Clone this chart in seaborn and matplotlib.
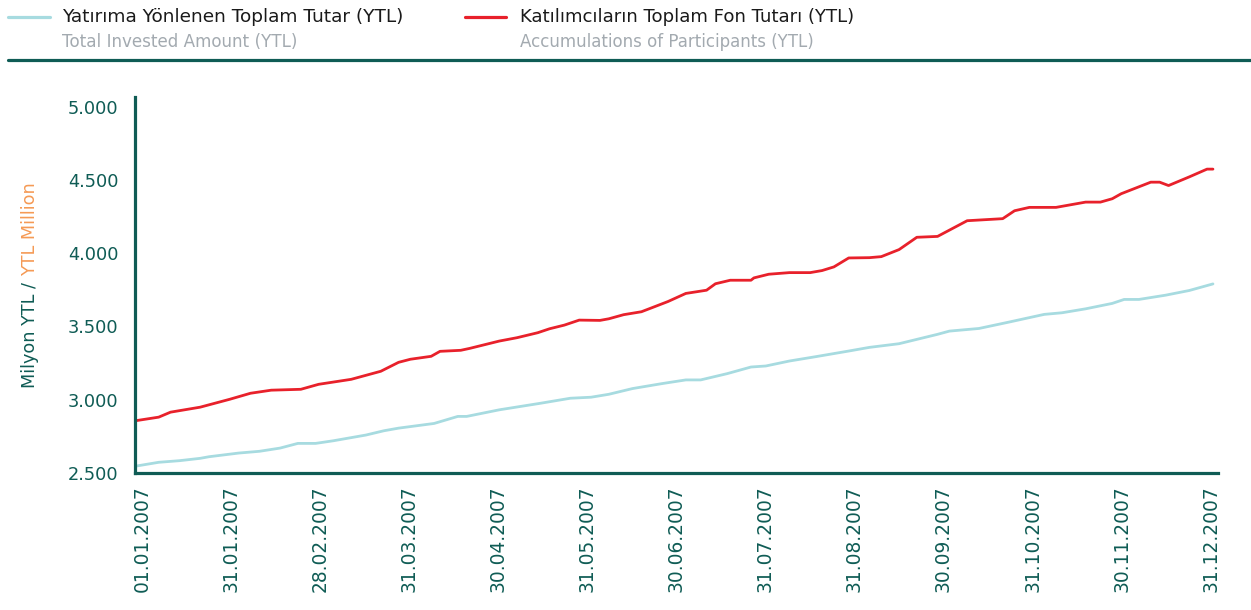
import numpy as np
import pandas as pd
import matplotlib
matplotlib.use("Agg")
import matplotlib.pyplot as plt
from matplotlib.lines import Line2D
import seaborn as sns

# ---- data ----
# day offsets from 01.01.2007, values in million YTL
red_days = [0, 8, 12, 22, 32, 39, 46, 56, 62, 73, 83, 89, 93, 100, 103, 110, 113, 123,
            129, 136, 140, 145, 150, 157, 160, 165, 171, 175, 180, 186, 193, 196, 201,
            208, 209, 214, 221, 228, 232, 236, 241, 248, 252, 258, 264, 271, 281, 293,
            297, 302, 311, 321, 326, 330, 333, 343, 346, 349, 356, 362, 364]
red_vals = [2856, 2881, 2915, 2949, 3003, 3044, 3065, 3071, 3105, 3139, 3194, 3255, 3276,
            3296, 3330, 3337, 3350, 3400, 3423, 3457, 3484, 3509, 3543, 3541, 3552, 3580,
            3600, 3631, 3670, 3725, 3747, 3791, 3815, 3815, 3831, 3856, 3867, 3867, 3881,
            3906, 3967, 3969, 3976, 4024, 4108, 4114, 4221, 4235, 4289, 4312, 4312, 4348,
            4348, 4371, 4405, 4484, 4484, 4461, 4520, 4573, 4573]

blue_days = [0, 8, 15, 22, 25, 35, 42, 49, 55, 61, 67, 78, 84, 89, 101, 109, 112, 123,
             137, 147, 154, 160, 168, 178, 186, 191, 200, 208, 213, 221, 230, 241, 248,
             258, 271, 275, 285, 295, 307, 313, 321, 330, 334, 339, 348, 356, 364]
blue_vals = [2546, 2573, 2584, 2600, 2611, 2636, 2648, 2670, 2702, 2702, 2720, 2759, 2788,
             2806, 2838, 2886, 2886, 2931, 2976, 3010, 3017, 3037, 3076, 3110, 3135, 3135,
             3178, 3223, 3230, 3264, 3294, 3332, 3357, 3382, 3446, 3468, 3486, 3529, 3582,
             3593, 3620, 3657, 3684, 3684, 3713, 3745, 3790]

tick_labels = ["01.01.2007", "31.01.2007", "28.02.2007", "31.03.2007", "30.04.2007",
               "31.05.2007", "30.06.2007", "31.07.2007", "31.08.2007", "30.09.2007",
               "31.10.2007", "30.11.2007", "31.12.2007"]
y_ticks = [2500, 3000, 3500, 4000, 4500, 5000]

series_tr = ["Yatırıma Yönlenen Toplam Tutar (YTL)", "Katılımcıların Toplam Fon Tutarı (YTL)"]
series_en = ["Total Invested Amount (YTL)", "Accumulations of Participants (YTL)"]

# ---- style ----
TEAL = "#0f5c55"
BLUE = "#a7dbe0"
RED = "#e8212b"
GRAY = "#a3aab0"
ORANGE = "#f59a55"

sns.set_theme(style="white")
plt.rcParams["font.family"] = ["DejaVu Sans"]

W, H = 1251, 610
fig = plt.figure(figsize=(W / 100, H / 100), dpi=100)
ax = fig.add_axes([135 / W, 1 - 473 / H, (1218 - 135) / W, (473 - 97) / H])

df_blue = pd.DataFrame({"day": blue_days, "value": blue_vals})
df_red = pd.DataFrame({"day": red_days, "value": red_vals})
sns.lineplot(data=df_blue, x="day", y="value", ax=ax, color=BLUE, linewidth=2.0)
sns.lineplot(data=df_red, x="day", y="value", ax=ax, color=RED, linewidth=2.0)

ax.set_xlim(0, 365.7)
ax.set_ylim(2500, 5065)
ax.set_xlabel("")
ax.set_ylabel("")

xt = np.linspace(2.5, 363.2, len(tick_labels))
ax.set_xticks(xt)
ax.set_xticklabels(tick_labels, rotation=90, fontsize=13.4, color=TEAL)
ax.set_yticks(y_ticks)
ax.set_yticklabels([f"{v:,}".replace(",", ".") for v in y_ticks], fontsize=12.8, color=TEAL)
ax.tick_params(axis="both", length=0)
ax.tick_params(axis="y", pad=12)
ax.tick_params(axis="x", pad=9)
ax.grid(False)

for s in ["top", "right"]:
    ax.spines[s].set_visible(False)
for s in ["left", "bottom"]:
    ax.spines[s].set_color(TEAL)
    ax.spines[s].set_linewidth(2.3)

# ---- y label with two colours ----
t1 = fig.text(30 / W, 1 - 388 / H, "Milyon YTL / ", rotation=90, ha="center", va="bottom",
              fontsize=12.7, color=TEAL)
fig.canvas.draw()
bb = t1.get_window_extent()
fig.text(30 / W, bb.y1 / H, "YTL Million", rotation=90, ha="center", va="bottom",
         fontsize=12.7, color=ORANGE)

# ---- legend header ----
fig.add_artist(Line2D([8 / W, 50 / W], [1 - 17 / H, 1 - 17 / H], color=BLUE, lw=2.3))
fig.add_artist(Line2D([465 / W, 506 / W], [1 - 17 / H, 1 - 17 / H], color=RED, lw=2.3))
fig.text(62 / W, 1 - 17 / H, series_tr[0], ha="left", va="center", fontsize=13.3, color="#1a1a1a")
fig.text(62 / W, 1 - 42 / H, series_en[0], ha="left", va="center", fontsize=12.1, color=GRAY)
fig.text(520 / W, 1 - 17 / H, series_tr[1], ha="left", va="center", fontsize=13.1, color="#1a1a1a")
fig.text(520 / W, 1 - 42 / H, series_en[1], ha="left", va="center", fontsize=12.0, color=GRAY)
fig.add_artist(Line2D([8 / W, 1.0], [1 - 60 / H, 1 - 60 / H], color=TEAL, lw=2.3))

fig.savefig("out.png", dpi=100, facecolor="white")
